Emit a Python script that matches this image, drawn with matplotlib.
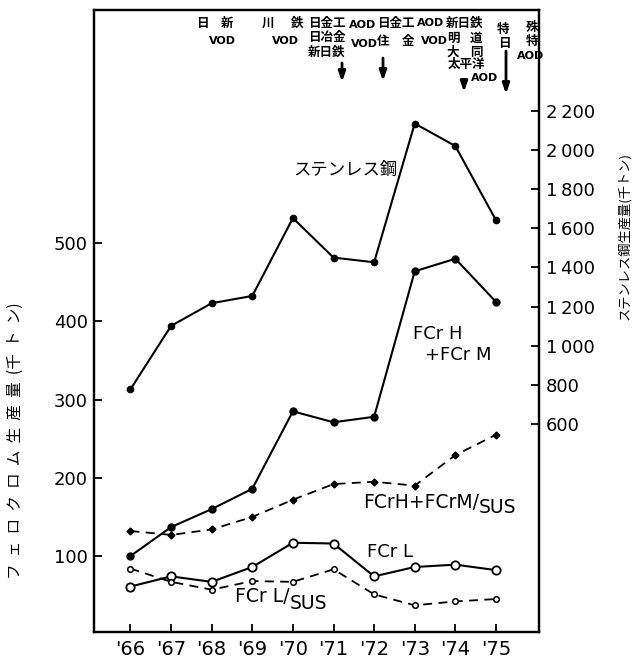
import matplotlib
matplotlib.use("Agg")
import matplotlib.pyplot as plt

plt.rcParams['font.family'] = ['DejaVu Sans']
CJK = ['Noto Sans CJK JP', 'DejaVu Sans']

years = ["'66", "'67", "'68", "'69", "'70", "'71", "'72", "'73", "'74", "'75"]
stainless = [777, 1101, 1217, 1254, 1652, 1450, 1426, 2135, 2020, 1641]
fcr_hm = [100, 137, 160, 186, 285, 271, 278, 464, 480, 425]
fcr_hm_sus = [132, 127, 134, 150, 172, 192, 195, 190, 229, 255]
fcr_l = [61, 74, 67, 86, 117, 116, 74, 86, 89, 82]
fcr_l_sus = [84, 67, 57, 68, 67, 83, 51, 37, 42, 45]

left_ticks = [100, 200, 300, 400, 500]
right_ticks = [600, 800, 1000, 1200, 1400, 1600, 1800, 2000, 2200]
right_labels = ["600", "800", "1\u2009000", "1\u2009200", "1\u2009400",
                "1\u2009600", "1\u2009800", "2\u2009000", "2\u2009200"]

W, H = 637, 664
fig = plt.figure(figsize=(W / 100, H / 100), dpi=100)


def fx(x):
    return x / W


def fy(y):
    return 1 - y / H


ax = fig.add_axes([fx(93.5), fy(632), fx(539) - fx(93.5), fy(10) - fy(632)])
ax2 = ax.twinx()

x = list(range(len(years)))
ax.set_xlim(-0.91, 10.06)
ax.set_ylim(2.9, 798)
ax2.set_ylim(-463, 2715)

for a in (ax, ax2):
    for s in a.spines.values():
        s.set_linewidth(1.6)

lw = 1.5
ax2.plot(x, stainless, color='black', lw=lw, marker='o', ms=4.5, zorder=3)
ax.plot(x, fcr_hm, color='black', lw=lw, marker='o', ms=5, zorder=3)
ax.plot(x, fcr_hm_sus, color='black', lw=1.3, ls=(0, (5, 3.5)), marker='D', ms=3.5, zorder=3)
ax.plot(x, fcr_l, color='black', lw=lw, marker='o', ms=6, mfc='white', mec='black', mew=1.3, zorder=3)
ax.plot(x, fcr_l_sus, color='black', lw=1.3, ls=(0, (5, 3.5)), marker='o', ms=4, mfc='white', mec='black', mew=1.1, zorder=3)

ax.set_xticks(x)
ax.set_xticklabels(years, fontsize=14)
ax.set_yticks(left_ticks)
ax.set_yticklabels([str(v) for v in left_ticks], fontsize=13)
ax.tick_params(axis='both', direction='in', length=6, width=1.3, pad=4)
ax.tick_params(axis='x', pad=6)
ax.tick_params(axis='y', right=False)
ax2.set_yticks(right_ticks)
ax2.set_yticklabels(right_labels, fontsize=13)
ax2.tick_params(axis='y', direction='in', length=6, width=1.3, pad=5)

# axis labels
fig.text(fx(15), fy(441), "フ  ェ  ロ  ク  ロ  ム  生  産  量  (千  ト  ン)", rotation=90,
         ha='center', va='center', fontsize=11.3, family=CJK)
fig.text(fx(624), fy(236), "ステンレス鋼生産量(千トン)", rotation=90,
         ha='center', va='center', fontsize=9.5, family=CJK)

# series labels
fig.text(fx(293), fy(170), "ステンレス鋼", ha='left', va='center', fontsize=12.5, family=CJK)
fig.text(fx(413), fy(334), "FCr H", ha='left', va='center', fontsize=13)
fig.text(fx(425), fy(355), "+FCr M", ha='left', va='center', fontsize=13)
t1 = fig.text(fx(363), fy(502), "FCrH+FCrM/", ha='left', va='center', fontsize=13.5)
ax.annotate("SUS", xy=(1, 0.5), xycoords=t1, xytext=(0, -4), textcoords='offset points',
            ha='left', va='center', fontsize=13.5)
fig.text(fx(367), fy(552), "FCr L", ha='left', va='center', fontsize=13)
t2 = fig.text(fx(235), fy(597), "FCr L/", ha='left', va='center', fontsize=13.5)
ax.annotate("SUS", xy=(1, 0.5), xycoords=t2, xytext=(0, -5), textcoords='offset points',
            ha='left', va='center', fontsize=13.5)

# top annotations (company / process)
cjk_notes = [
    ("日", 202, 23), ("新", 227, 23),
    ("川", 268, 23), ("鉄", 297, 23),
    ("日金工", 327, 23), ("日冶金", 327, 38), ("新日鉄", 327, 52),
    ("日金工", 396, 23), ("住", 383, 41), ("金", 408, 41),
    ("新日鉄", 465, 23), ("明", 453, 38), ("道", 476, 38),
    ("大", 453, 52), ("同", 476, 52), ("太平洋", 466, 64),
    ("特", 503, 29), ("日", 504, 43),
    ("殊", 532, 28), ("特", 532, 42),
]
for s, px, py in cjk_notes:
    fig.text(fx(px), fy(py), s, ha='center', va='center', fontsize=9, family=CJK, weight='bold')

latin_notes = [
    ("VOD", 222, 41), ("VOD", 285, 41),
    ("AOD", 363, 25), ("VOD", 364, 44),
    ("AOD", 431, 23), ("VOD", 434, 41),
    ("AOD", 485, 78), ("AOD", 531, 56),
]
for s, px, py in latin_notes:
    fig.text(fx(px), fy(py), s, ha='center', va='center', fontsize=8, weight='bold')

arrows = [(342, 63, 82), (383, 58, 81), (464, 83, 92), (506, 51, 94)]
for px, y0, y1 in arrows:
    fig.add_artist(matplotlib.patches.FancyArrowPatch(
        (fx(px), fy(y0)), (fx(px), fy(y1)), transform=fig.transFigure,
        arrowstyle='-|>,head_length=4,head_width=1.4', lw=2.0, color='black',
        shrinkA=0, shrinkB=0, mutation_scale=1.5))

fig.savefig("out.png", dpi=100)
